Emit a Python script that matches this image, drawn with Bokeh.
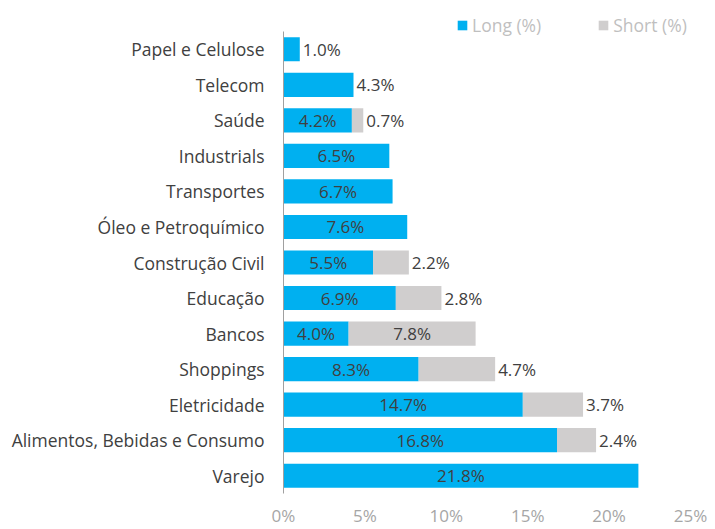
from bokeh.plotting import figure
from bokeh.models import ColumnDataSource, Range1d, FixedTicker, PrintfTickFormatter, Legend, LegendItem, LabelSet
from bokeh.core.properties import value
from bokeh.embed import file_html
from bokeh.resources import INLINE

categories = ["Papel e Celulose", "Telecom", "Saúde", "Industrials", "Transportes",
              "Óleo e Petroquímico", "Construção Civil", "Educação", "Bancos",
              "Shoppings", "Eletricidade", "Alimentos, Bebidas e Consumo", "Varejo"]
long_pct = [1.0, 4.3, 4.2, 6.5, 6.7, 7.6, 5.5, 6.9, 4.0, 8.3, 14.7, 16.8, 21.8]
short_pct = [0, 0, 0.7, 0, 0, 0, 2.2, 2.8, 7.8, 4.7, 3.7, 2.4, 0]
x_ticks = [0, 5, 10, 15, 20, 25]

BLUE = "#00B0F0"
GRAY = "#D0CECE"
FONT = "Open Sans"
LAB = "#404040"

n = len(categories)
ypos = [n - 1 - i for i in range(n)]  # first category at top
src = ColumnDataSource(dict(y=ypos, long=long_pct, short=short_pct,
                            total=[l + s for l, s in zip(long_pct, short_pct)]))

W, H = 715, 529
frame_bottom_px = 36
row_px = 462 / n
frame_h = H - frame_bottom_px
y_end = -0.5 + frame_h / row_px

p = figure(width=W, height=H, output_backend="svg", toolbar_location=None,
           y_range=Range1d(-0.5, y_end), x_range=Range1d(0, 25),
           min_border_left=283, min_border_right=25, min_border_top=0,
           min_border_bottom=frame_bottom_px)
p.outline_line_color = None
p.grid.grid_line_color = None
p.background_fill_color = "white"

r_long = p.hbar(y="y", left=0, right="long", height=0.68, source=src,
                fill_color=BLUE, line_color=None)
r_short = p.hbar(y="y", left="long", right="total", height=0.68, source=src,
                 fill_color=GRAY, line_color=None)

# long labels: centred in bar, or just past the end for short single bars
lc_x, lc_y, lc_t = [], [], []
lo_x, lo_y, lo_t = [], [], []
for yy, l, s in zip(ypos, long_pct, short_pct):
    if s == 0 and l < 5:
        lo_x.append(l); lo_y.append(yy); lo_t.append(f"{l:.1f}%")
    else:
        lc_x.append(l / 2); lc_y.append(yy); lc_t.append(f"{l:.1f}%")
# short labels: centred when wide, else after bar end
sc_x, sc_y, sc_t = [], [], []
so_x, so_y, so_t = [], [], []
for yy, l, s in zip(ypos, long_pct, short_pct):
    if s >= 5:
        sc_x.append(l + s / 2); sc_y.append(yy); sc_t.append(f"{s:.1f}%")
    elif s > 0:
        so_x.append(l + s); so_y.append(yy); so_t.append(f"{s:.1f}%")

common = dict(text_font=value(FONT), text_font_size="17px", text_color=LAB, text_baseline="middle")
p.add_layout(LabelSet(x="x", y="y", text="t", source=ColumnDataSource(dict(x=lc_x, y=lc_y, t=lc_t)),
                      text_align="center", **common))
p.add_layout(LabelSet(x="x", y="y", text="t", source=ColumnDataSource(dict(x=lo_x, y=lo_y, t=lo_t)),
                      text_align="left", x_offset=3, **common))
p.add_layout(LabelSet(x="x", y="y", text="t", source=ColumnDataSource(dict(x=sc_x, y=sc_y, t=sc_t)),
                      text_align="center", **common))
p.add_layout(LabelSet(x="x", y="y", text="t", source=ColumnDataSource(dict(x=so_x, y=so_y, t=so_t)),
                      text_align="left", x_offset=3, **common))

# axes
p.xaxis.ticker = FixedTicker(ticks=x_ticks)
p.xaxis.formatter = PrintfTickFormatter(format="%d%%")
p.xaxis.axis_line_color = None
p.xaxis.major_tick_line_color = None
p.xaxis.minor_tick_line_color = None
p.xaxis.major_tick_out = 0
p.xaxis.minor_tick_out = 0
p.xaxis.major_label_text_color = "#A6A6A6"
p.xaxis.major_label_text_font = FONT
p.xaxis.major_label_text_font_size = "17px"
p.xaxis.major_label_standoff = 10

p.yaxis.ticker = FixedTicker(ticks=ypos)
p.yaxis.major_label_overrides = {yy: c for yy, c in zip(ypos, categories)}
p.yaxis.bounds = (-0.5, n - 0.5)
p.yaxis.axis_line_color = "#A0A0A0"
p.yaxis.major_tick_line_color = None
p.yaxis.minor_tick_line_color = None
p.yaxis.major_tick_out = 0
p.yaxis.minor_tick_out = 0
p.yaxis.major_label_text_color = LAB
p.yaxis.major_label_text_font = FONT
p.yaxis.major_label_text_font_size = "17.5px"
p.yaxis.major_label_standoff = 19

legend = Legend(items=[LegendItem(label="Long (%)", renderers=[r_long]),
                       LegendItem(label="Short (%)", renderers=[r_short])],
                orientation="horizontal", location=(173, frame_h - 37),
                glyph_width=12, glyph_height=12, label_standoff=4, spacing=56,
                padding=0, margin=0, border_line_color=None, background_fill_alpha=0,
                label_text_font=FONT, label_text_font_size="17.5px", label_text_color="#BFBFBF",
                label_height=20)
p.add_layout(legend, "center")

open("out.html", "w").write(file_html(p, INLINE))
